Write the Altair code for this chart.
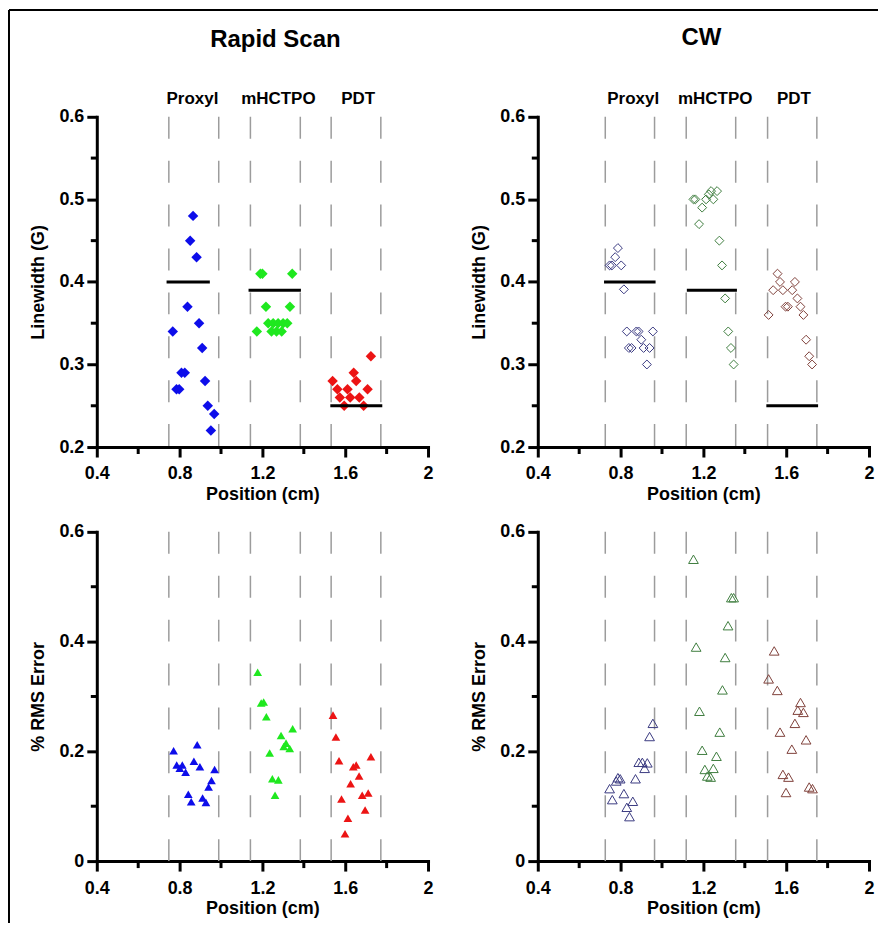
import altair as alt
import pandas as pd

FONT = "Liberation Sans"

compounds = ["Proxyl", "mHCTPO", "PDT"]

# ---------------- Rapid Scan: linewidth ----------------
rs_lw_proxyl_x = [0.865, 0.851, 0.882, 0.838, 0.894, 0.767, 0.909, 0.809, 0.825, 0.923, 0.785, 0.798, 0.936, 0.967, 0.951]
rs_lw_proxyl_y = [0.48, 0.45, 0.43, 0.37, 0.35, 0.34, 0.32, 0.29, 0.29, 0.28, 0.27, 0.27, 0.25, 0.24, 0.22]
rs_lw_mhctpo_x = [1.19, 1.20, 1.344, 1.217, 1.333, 1.228, 1.252, 1.276, 1.30, 1.32, 1.173, 1.244, 1.268, 1.293]
rs_lw_mhctpo_y = [0.41, 0.41, 0.41, 0.37, 0.37, 0.35, 0.35, 0.35, 0.35, 0.35, 0.34, 0.34, 0.34, 0.34]
rs_lw_pdt_x = [1.724, 1.641, 1.653, 1.539, 1.562, 1.611, 1.708, 1.574, 1.624, 1.668, 1.595, 1.689]
rs_lw_pdt_y = [0.31, 0.29, 0.28, 0.28, 0.27, 0.27, 0.27, 0.26, 0.26, 0.26, 0.25, 0.25]

# ---------------- CW: linewidth ----------------
cw_lw_proxyl_x = [0.787, 0.774, 0.747, 0.758, 0.803, 0.816, 0.83, 0.876, 0.887, 0.956, 0.9, 0.84, 0.853, 0.911, 0.94, 0.927]
cw_lw_proxyl_y = [0.441, 0.43, 0.42, 0.42, 0.42, 0.391, 0.34, 0.34, 0.34, 0.34, 0.33, 0.32, 0.32, 0.32, 0.32, 0.30]
cw_lw_mhctpo_x = [1.152, 1.161, 1.213, 1.248, 1.237, 1.266, 1.226, 1.194, 1.179, 1.277, 1.29, 1.305, 1.32, 1.333, 1.346]
cw_lw_mhctpo_y = [0.50, 0.50, 0.50, 0.50, 0.51, 0.51, 0.506, 0.49, 0.47, 0.45, 0.42, 0.38, 0.34, 0.32, 0.30]
cw_lw_pdt_x = [1.558, 1.57, 1.642, 1.537, 1.584, 1.629, 1.654, 1.669, 1.597, 1.608, 1.515, 1.683, 1.696, 1.711, 1.725]
cw_lw_pdt_y = [0.41, 0.40, 0.40, 0.39, 0.39, 0.39, 0.38, 0.37, 0.37, 0.37, 0.36, 0.36, 0.33, 0.31, 0.30]

# ---------------- Rapid Scan: % RMS error ----------------
rs_err_proxyl_x = [0.771, 0.885, 0.869, 0.786, 0.813, 0.801, 0.829, 0.898, 0.969, 0.954, 0.94, 0.842, 0.856, 0.911, 0.927]
rs_err_proxyl_y = [0.201, 0.212, 0.182, 0.175, 0.175, 0.169, 0.162, 0.172, 0.167, 0.147, 0.135, 0.122, 0.108, 0.115, 0.107]
rs_err_mhctpo_x = [1.177, 1.194, 1.206, 1.219, 1.346, 1.29, 1.314, 1.303, 1.332, 1.235, 1.248, 1.277, 1.261]
rs_err_mhctpo_y = [0.344, 0.288, 0.29, 0.263, 0.241, 0.229, 0.215, 0.209, 0.205, 0.197, 0.15, 0.148, 0.12]
rs_err_pdt_x = [1.541, 1.555, 1.57, 1.724, 1.639, 1.653, 1.667, 1.626, 1.582, 1.682, 1.711, 1.696, 1.613, 1.599]
rs_err_pdt_y = [0.266, 0.226, 0.183, 0.19, 0.172, 0.175, 0.155, 0.141, 0.113, 0.12, 0.124, 0.093, 0.078, 0.05]

# ---------------- CW: % RMS error ----------------
cw_err_proxyl_x = [0.956, 0.94, 0.888, 0.905, 0.929, 0.916, 0.787, 0.798, 0.779, 0.872, 0.747, 0.816, 0.859, 0.76, 0.83, 0.843]
cw_err_proxyl_y = [0.251, 0.227, 0.18, 0.18, 0.179, 0.169, 0.152, 0.15, 0.146, 0.15, 0.132, 0.123, 0.109, 0.112, 0.098, 0.081]
cw_err_mhctpo_x = [1.152, 1.335, 1.346, 1.319, 1.165, 1.305, 1.292, 1.181, 1.279, 1.194, 1.263, 1.207, 1.248, 1.219, 1.235]
cw_err_mhctpo_y = [0.55, 0.48, 0.48, 0.429, 0.39, 0.371, 0.312, 0.273, 0.235, 0.202, 0.191, 0.167, 0.169, 0.155, 0.153]
cw_err_pdt_x = [1.542, 1.515, 1.557, 1.669, 1.656, 1.683, 1.642, 1.57, 1.696, 1.627, 1.584, 1.611, 1.711, 1.727, 1.599]
cw_err_pdt_y = [0.383, 0.332, 0.311, 0.289, 0.275, 0.271, 0.251, 0.235, 0.221, 0.204, 0.158, 0.153, 0.135, 0.132, 0.125]

# group dividers (dashed), mean lines, category label positions
rs_dividers = [0.748, 0.989, 1.142, 1.383, 1.532, 1.772]
cw_dividers = [0.726, 0.964, 1.117, 1.356, 1.51, 1.748]
rs_mean_x1 = [0.737, 1.133, 1.528]
rs_mean_x2 = [0.946, 1.386, 1.779]
rs_mean_y = [0.40, 0.39, 0.25]
cw_mean_x1 = [0.72, 1.12, 1.504]
cw_mean_x2 = [0.969, 1.362, 1.754]
cw_mean_y = [0.40, 0.39, 0.25]
rs_label_x = [0.862, 1.277, 1.663]
cw_label_x = [0.861, 1.257, 1.637]

x_ticks = [0.4, 0.8, 1.2, 1.6, 2.0]
x_minor = [0.6, 1.0, 1.4, 1.8]
lw_ticks = [0.2, 0.3, 0.4, 0.5, 0.6]
lw_minor = [0.25, 0.35, 0.45, 0.55]
err_ticks = [0.0, 0.2, 0.4, 0.6]
err_minor = [0.1, 0.3, 0.5]

rs_colors = ["#0d0dea", "#1fe81f", "#ec1414"]
cw_colors = ["#3b3b82", "#3f7d3f", "#80403a"]

W = 332


def points_df(xs, ys):
    rows = []
    for c, xx, yy in zip(compounds, xs, ys):
        for a, b in zip(xx, yy):
            rows.append({"x": a, "y": b, "compound": c})
    return pd.DataFrame(rows)


def panel(pts, dividers, labels_x, ydom, yticks, yminor, ytitle, yfmt,
          shape, filled, size, colors, H, means=None, title=None, frame=False):
    X = lambda f="x": alt.X(f"{f}:Q", scale=alt.Scale(domain=[0.4, 2.0], nice=False, zero=False),
                            axis=alt.Axis(values=x_ticks, format="~g", title="Position (cm)"))
    Y = lambda: alt.Y("y:Q", scale=alt.Scale(domain=ydom, nice=False, zero=False),
                      axis=alt.Axis(values=yticks, format=yfmt, title=ytitle))

    layers = []
    div = alt.Chart(pd.DataFrame({"x": dividers})).mark_rule(
        color="#9c9c9c", strokeWidth=1.5, strokeDash=[22, 22]
    ).encode(x=X(), y=alt.value(0), y2=alt.value(H))
    layers.append(div)

    pt = alt.Chart(pts).mark_point(shape=shape, filled=filled, size=size, opacity=1,
                                   strokeWidth=1).encode(
        x=X(), y=Y(),
        color=alt.Color("compound:N", scale=alt.Scale(domain=compounds, range=colors), legend=None),
    )
    layers.append(pt)

    if means is not None:
        mdf = pd.DataFrame({"x": means[0], "x2": means[1], "y": means[2]})
        layers.append(alt.Chart(mdf).mark_rule(color="black", strokeWidth=3).encode(
            x=X(), x2="x2:Q", y=Y()))

    # minor ticks
    layers.append(alt.Chart(pd.DataFrame({"x": x_minor})).mark_rule(color="black", strokeWidth=3).encode(
        x=X(), y=alt.value(H), y2=alt.value(H + 7)))
    layers.append(alt.Chart(pd.DataFrame({"y": yminor})).mark_rule(color="black", strokeWidth=3).encode(
        y=Y(), x=alt.value(0), x2=alt.value(-6)))

    # category labels above plot
    if labels_x:
        ldf = pd.DataFrame({"x": labels_x, "label": compounds})
        layers.append(alt.Chart(ldf).mark_text(font=FONT, fontSize=17, fontWeight="bold", color="black",
                                               baseline="alphabetic").encode(
            x=X(), y=alt.value(-13), text="label:N"))

    if frame:
        layers.append(alt.Chart(pd.DataFrame({"k": [0]})).mark_rule(color="black", strokeWidth=2).encode(
            x=alt.value(-88), y=alt.value(-523), y2=alt.value(392)))
        layers.append(alt.Chart(pd.DataFrame({"k": [0]})).mark_rule(color="black", strokeWidth=2).encode(
            x=alt.value(-88), x2=alt.value(783), y=alt.value(-523)))

    ch = alt.layer(*layers).properties(width=W, height=H)
    if title is not None:
        ch = ch.properties(title=title)
    return ch


tl = panel(points_df([rs_lw_proxyl_x, rs_lw_mhctpo_x, rs_lw_pdt_x], [rs_lw_proxyl_y, rs_lw_mhctpo_y, rs_lw_pdt_y]),
           rs_dividers, rs_label_x, [0.2, 0.6], lw_ticks, lw_minor, "Linewidth (G)", ".1f",
           "diamond", True, 110, rs_colors, 331,
           means=(rs_mean_x1, rs_mean_x2, rs_mean_y),
           title=alt.TitleParams("Rapid Scan", dx=13, offset=19, baseline="alphabetic", frame="group"))
tr = panel(points_df([cw_lw_proxyl_x, cw_lw_mhctpo_x, cw_lw_pdt_x], [cw_lw_proxyl_y, cw_lw_mhctpo_y, cw_lw_pdt_y]),
           cw_dividers, cw_label_x, [0.2, 0.6], lw_ticks, lw_minor, "Linewidth (G)", ".1f",
           "diamond", False, 80, cw_colors, 331,
           means=(cw_mean_x1, cw_mean_x2, cw_mean_y),
           title=alt.TitleParams("CW", dx=-2, offset=21, baseline="alphabetic", frame="group"))
bl = panel(points_df([rs_err_proxyl_x, rs_err_mhctpo_x, rs_err_pdt_x], [rs_err_proxyl_y, rs_err_mhctpo_y, rs_err_pdt_y]),
           rs_dividers, [], [0.0, 0.6], err_ticks, err_minor, "% RMS Error", "~g",
           "triangle-up", True, 76, rs_colors, 330, frame=True)
br = panel(points_df([cw_err_proxyl_x, cw_err_mhctpo_x, cw_err_pdt_x], [cw_err_proxyl_y, cw_err_mhctpo_y, cw_err_pdt_y]),
           cw_dividers, [], [0.0, 0.6], err_ticks, err_minor, "% RMS Error", "~g",
           "triangle-up", False, 95, cw_colors, 330)

chart = alt.concat(tl, tr, bl, br, columns=2, spacing={"row": 85, "column": 110}, bounds="flush").resolve_scale(
    color="independent"
).properties(
    padding=0, background="white"
).configure_view(stroke=None).configure_axis(
    grid=False, domainColor="black", domainWidth=3, domainCap="square", tickColor="black", tickWidth=3,
    tickSize=10, labelFont=FONT, labelFontSize=18, labelFontWeight="bold", labelColor="black",
    titleFont=FONT, titleFontSize=18, titleFontWeight="bold", titleColor="black",
    labelFlush=False, labelOverlap=False
).configure_axisX(labelPadding=8, titlePadding=3).configure_axisY(labelPadding=3, titlePadding=11, titleFontSize=18).configure_title(
    font=FONT, fontSize=24, fontWeight="bold", color="black", anchor="middle"
)

chart.save("out.html", embed_options={"renderer": "svg", "actions": False})
